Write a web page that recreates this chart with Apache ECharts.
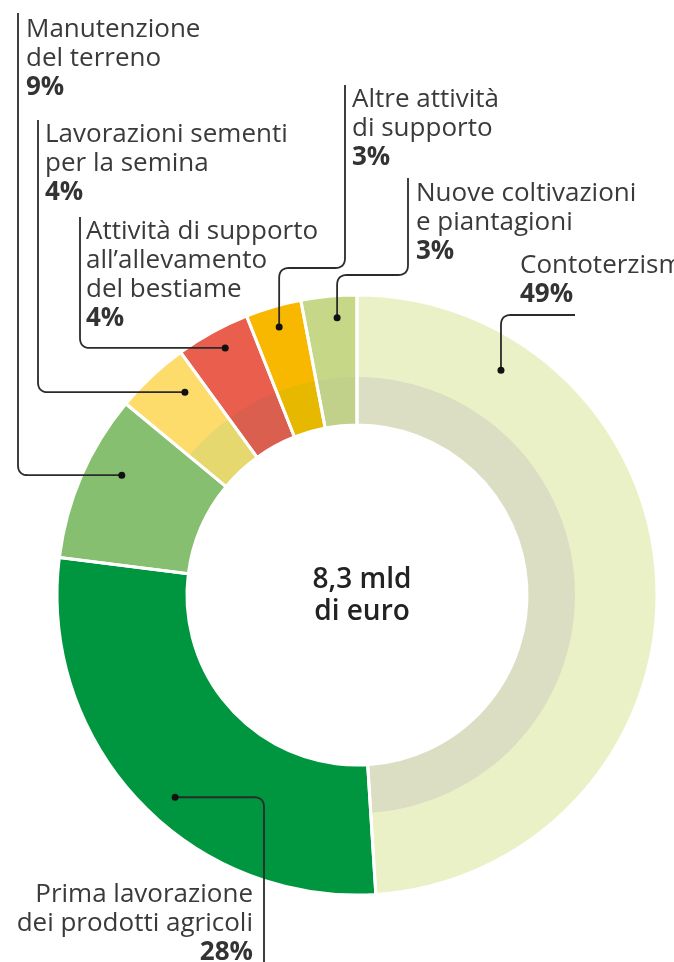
<!DOCTYPE html>
<html>
<head>
<meta charset="utf-8">
<script src="https://cdn.jsdelivr.net/npm/echarts@6/dist/echarts.min.js"></script>
<style>
  html, body { margin: 0; padding: 0; background: #fff; }
  #chart { width: 674px; height: 962px; }
</style>
</head>
<body>
<div id="chart"></div>
<script>
// dati
const names = [
  'Contoterzismo',
  'Prima lavorazione\ndei prodotti agricoli',
  'Manutenzione\ndel terreno',
  'Lavorazioni sementi\nper la semina',
  'Attività di supporto\nall\u2019allevamento\ndel bestiame',
  'Altre attività\ndi supporto',
  'Nuove coltivazioni\ne piantagioni'
]
const values = [49, 28, 9, 4, 4, 3, 3]
const colors = ['#eaf1c7', '#00963f', '#86bf70', '#fddc6b', '#e95e4c', '#f9b800', '#c6d888']
const innerColors = ['#dcdec3', '#00963f', '#86bf70', '#e5d86e', '#db5f4e', '#e6b800', '#c2d18a']
const totalLabel = '8,3 mld\ndi euro'

// layout
const CX = 357, CY = 595
const R_IN = 170, R_MID = 218, R_OUT = 300
const labelPos = [
  [520, 251, 'left'],
  [253, 880, 'right'],
  [26, 15, 'left'],
  [45, 120, 'left'],
  [86, 217, 'left'],
  [352, 85, 'left'],
  [416, 179, 'left']
]
// where the leader dot sits: fraction along the slice, radius
const dotPos = [[0.185, 267], [0.452, 272], [0.611, 264], [0.70, 266], [0.55, 280], [0.5, 279], [0.62, 278]]
const routes = [
  d => [[d[0], 315], [575, 315]],
  d => [[264, d[1]], [264, 962]],
  d => [[18, d[1]], [18, 13]],
  d => [[38, d[1]], [38, 120]],
  d => [[80, d[1]], [80, 217]],
  d => [[d[0], 268], [345, 268], [345, 85]],
  d => [[d[0], 275], [408, 275], [408, 178]]
]

const total = values.reduce((s, v) => s + v, 0)
const dots = []
let acc = 0
values.forEach((v, i) => {
  const a = (acc + v * dotPos[i][0]) / total * Math.PI * 2
  dots.push([CX + dotPos[i][1] * Math.sin(a), CY - dotPos[i][1] * Math.cos(a)])
  acc += v
})

// polyline con angoli arrotondati
function rounded(pts, r) {
  const out = [pts[0]]
  for (let i = 1; i < pts.length - 1; i++) {
    const p0 = pts[i - 1], p1 = pts[i], p2 = pts[i + 1]
    const l1 = Math.hypot(p1[0] - p0[0], p1[1] - p0[1])
    const l2 = Math.hypot(p2[0] - p1[0], p2[1] - p1[1])
    const rr = Math.min(r, l1 / 2, l2 / 2)
    const a = [p1[0] - (p1[0] - p0[0]) / l1 * rr, p1[1] - (p1[1] - p0[1]) / l1 * rr]
    const b = [p1[0] + (p2[0] - p1[0]) / l2 * rr, p1[1] + (p2[1] - p1[1]) / l2 * rr]
    for (let t = 0; t <= 1.0001; t += 0.125) {
      const u = 1 - t
      out.push([u * u * a[0] + 2 * u * t * p1[0] + t * t * b[0], u * u * a[1] + 2 * u * t * p1[1] + t * t * b[1]])
    }
  }
  out.push(pts[pts.length - 1])
  return out
}

const graphics = []
dots.forEach((d, i) => {
  graphics.push({
    type: 'polyline', silent: true, z: 100,
    shape: { points: rounded([d].concat(routes[i](d)), 10) },
    style: { stroke: '#2b2b2b', lineWidth: 1.8, fill: null }
  })
  graphics.push({
    type: 'circle', silent: true, z: 101,
    shape: { cx: d[0], cy: d[1], r: 3.5 },
    style: { fill: '#111' }
  })
})

const FONT = '"Open Sans"'
const chart = echarts.init(document.getElementById('chart'))
chart.setOption({
  animation: false,
  title: {
    text: totalLabel,
    left: CX, top: 559, textAlign: 'center',
    textStyle: { fontFamily: FONT, fontSize: 28, fontWeight: 600, color: '#222', lineHeight: 32 }
  },
  series: [
    {
      type: 'pie', center: [CX, CY], radius: [R_IN, R_OUT], startAngle: 90,
      avoidLabelOverlap: false, silent: true,
      data: names.map((n, i) => ({ name: n, value: values[i], itemStyle: { color: colors[i] } })),
      label: {
        show: true, position: 'outside',
        formatter: p => '{n|' + p.name + '}\n{p|' + p.value + '%}',
        rich: {
          n: { fontFamily: FONT, fontSize: 26, color: '#3a3a3a', lineHeight: 29 },
          p: { fontFamily: FONT, fontSize: 26, fontWeight: 'bold', color: '#333', lineHeight: 29 }
        }
      },
      labelLine: { show: false },
      labelLayout: p => ({
        x: labelPos[p.dataIndex][0], y: labelPos[p.dataIndex][1],
        align: labelPos[p.dataIndex][2], verticalAlign: 'top'
      })
    },
    {
      type: 'pie', center: [CX, CY], radius: [R_IN, R_MID], startAngle: 90, silent: true,
      label: { show: false }, labelLine: { show: false },
      data: names.map((n, i) => ({ name: n, value: values[i], itemStyle: { color: innerColors[i] } }))
    },
    {
      type: 'pie', center: [CX, CY], radius: [R_IN, R_OUT], startAngle: 90, silent: true,
      label: { show: false }, labelLine: { show: false },
      itemStyle: { color: 'rgba(0,0,0,0)', borderColor: '#fff', borderWidth: 3 },
      data: names.map((n, i) => ({ name: n, value: values[i] }))
    }
  ],
  graphic: graphics
})
</script>
</body>
</html>
